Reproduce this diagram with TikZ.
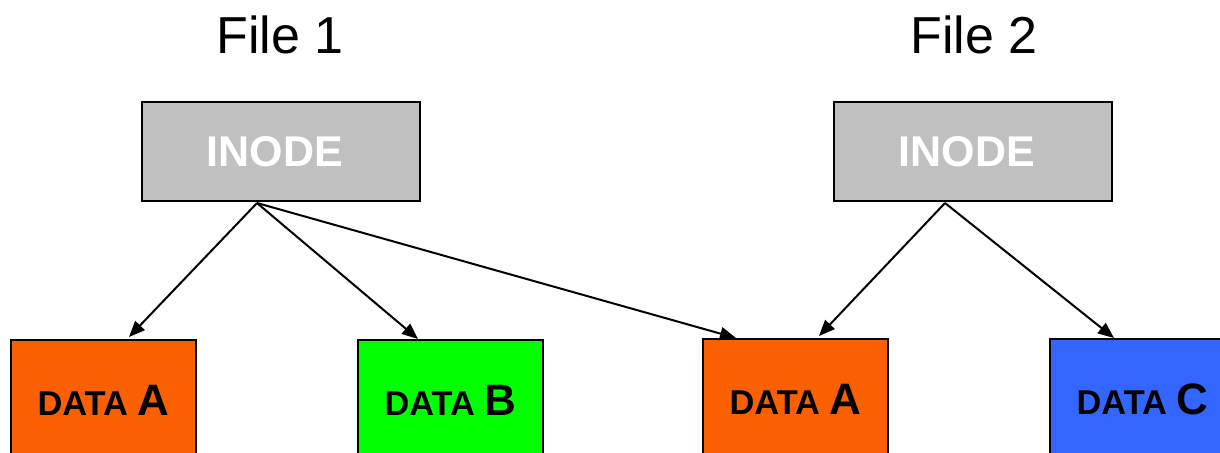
\documentclass[tikz,border=0pt]{standalone}
\usepackage{fontspec}
\setmainfont{Liberation Sans}
\usepackage{xcolor}
\usetikzlibrary{arrows.meta}
\definecolor{inodegray}{HTML}{C0C0C0}
\definecolor{dataorange}{HTML}{FA6000}
\definecolor{datagreen}{HTML}{00FF00}
\definecolor{datablue}{HTML}{3366FF}
\newcommand{\blk}[1]{DATA {\fontsize{22}{24}\selectfont #1}}

\begin{document}
\begin{tikzpicture}[x=0.5pt, y=-0.5pt, -{Triangle[length=8pt,width=6.5pt]}, line width=1pt,
      every node/.append style={inner sep=0pt, outer sep=0pt}]
    \tikzstyle{inode} = [draw=black, line width=1.3pt, fill=inodegray, minimum width=139pt,
      minimum height=49.5pt, text=white, font=\fontsize{21.5}{24}\selectfont\bfseries]
    \tikzstyle{data} = [draw=black, line width=1.3pt, minimum width=92.5pt, minimum height=60pt,
      font=\fontsize{17.2}{19}\selectfont\bfseries]
    \tikzstyle{title} = [font=\fontsize{26}{30}\selectfont]
    \clip (0,0) rectangle (1220,452);
    \useasboundingbox (0,0) rectangle (1220,452);
    % titles
    \node [title] (file1) at (280,35) {File 1};
    \node [title] (file2) at (974,35) {File 2};
    % inodes
    \node [inode] (inode1) at (281,151.5) {INODE\hspace*{6pt}};
    \node [inode] (inode2) at (973,151.5) {INODE\hspace*{6pt}};
    % data blocks
    \node [data, fill=dataorange] (dataA1) at (103.5,400) {\blk{A}};
    \node [data, fill=datagreen] (dataB) at (450.5,400) {\blk{B}};
    \node [data, fill=dataorange] (dataA2) at (795.5,399) {\blk{A}};
    \node [data, fill=datablue] (dataC) at (1142.5,399) {\blk{C}};
    % pointer ends
    \coordinate (src1) at (257,203);
    \coordinate (src2) at (945,203);
    \coordinate (dstA1) at (129,337);
    \coordinate (dstB) at (418,339);
    \coordinate (dstA2) at (736,338);
    \coordinate (dstA2b) at (819,336);
    \coordinate (dstC) at (1114,338);
    \draw (src1) -- (dstA1);
    \draw (src1) -- (dstB);
    \draw (src1) -- (dstA2);
    \draw (src2) -- (dstA2b);
    \draw (src2) -- (dstC);
\end{tikzpicture}
\end{document}
